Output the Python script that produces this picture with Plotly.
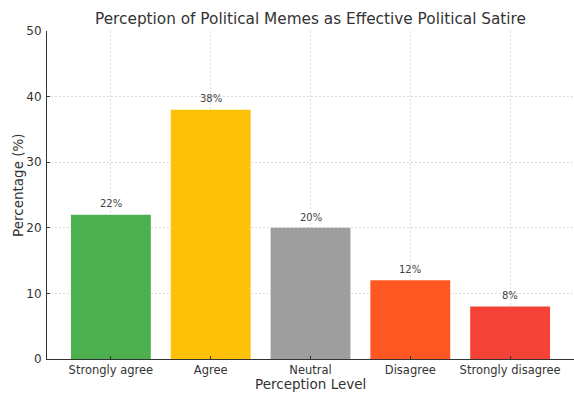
import plotly.graph_objects as go

categories = ["Strongly agree", "Agree", "Neutral", "Disagree", "Strongly disagree"]
percentages = [22, 38, 20, 12, 8]
bar_colors = ["#4CAF50", "#FFC107", "#9E9E9E", "#FF5722", "#F44336"]
y_ticks = [0, 10, 20, 30, 40, 50]

font_family = "DejaVu Sans, sans-serif"
W, H = 574, 394
M_L, M_R, M_T, M_B = 47, 0, 31, 35

fig = go.Figure(
    go.Bar(
        x=list(range(len(categories))),
        y=percentages,
        marker=dict(color=bar_colors, line=dict(width=0)),
        width=0.8,
        hoverinfo="skip",
    )
)

for i, v in enumerate(percentages):
    fig.add_annotation(
        x=i, y=v + 0.5, text=f"{v}%", showarrow=False,
        yanchor="bottom", xanchor="center",
        font=dict(family=font_family, size=10, color="#444444"),
    )

# axis titles placed in pixel offsets from the plot area
fig.add_annotation(
    text="Perception Level", xref="paper", yref="paper",
    x=0.5, y=0, yshift=-(384 - (H - M_B)), xanchor="center", yanchor="middle",
    showarrow=False, font=dict(family=font_family, size=13.5, color="#333333"),
)
fig.add_annotation(
    text="Percentage (%)", xref="paper", yref="paper",
    x=0, y=(H - M_B - 185) / (H - M_T - M_B), xshift=-(M_L - 18),
    xanchor="center", yanchor="middle",
    textangle=-90, showarrow=False,
    font=dict(family=font_family, size=13.5, color="#333333"),
)

grid_style = dict(showgrid=True, gridcolor="#dcdcdc", griddash="2px,2px", gridwidth=0.8)

fig.update_layout(
    width=W, height=H,
    margin=dict(l=M_L, r=M_R, t=M_T, b=M_B, autoexpand=False),
    plot_bgcolor="white", paper_bgcolor="white",
    font=dict(family=font_family, color="#333333"),
    showlegend=False,
    title=dict(
        text="Perception of Political Memes as Effective Political Satire",
        x=0.5, xanchor="center", xref="paper",
        y=1 - 19 / H, yanchor="middle",
        font=dict(size=15.3, color="#333333"),
    ),
    xaxis=dict(
        range=[-0.64, 4.64],
        tickmode="array",
        tickvals=list(range(len(categories))),
        ticktext=categories,
        ticks="inside", ticklen=3, tickcolor="#333333",
        tickfont=dict(size=11.5),
        ticklabelstandoff=0,
        showline=True, linecolor="#333333", linewidth=1,
        zeroline=False, automargin=False,
        **grid_style,
    ),
    yaxis=dict(
        range=[0, 50],
        tickmode="array",
        tickvals=y_ticks,
        ticks="inside", ticklen=3, tickcolor="#333333",
        tickfont=dict(size=12),
        ticklabelstandoff=2,
        showline=True, linecolor="#333333", linewidth=1,
        zeroline=False, automargin=False,
        **grid_style,
    ),
)

fig.write_html("out.html")
